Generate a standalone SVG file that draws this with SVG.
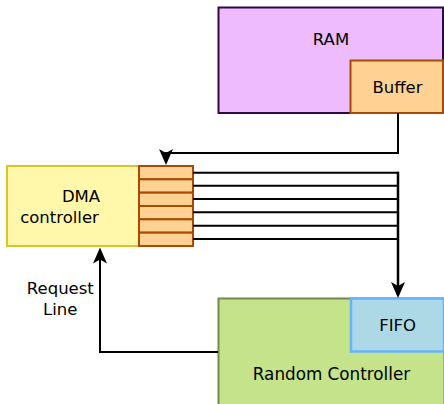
<svg xmlns="http://www.w3.org/2000/svg" width="444" height="404" viewBox="0 0 444 404">
<style>
text{font-family:"DejaVu Sans","Liberation Sans",sans-serif;font-size:16.5px;fill:#000;text-anchor:middle}
.ln{fill:none;stroke:#000;stroke-width:2}
</style>
<defs>
<marker id="arr" viewBox="0 0 16 14" refX="13" refY="7" markerWidth="16" markerHeight="14" markerUnits="userSpaceOnUse" orient="auto">
<path d="M0,0 L16,7 L0,14 L4,7 Z" fill="#000"/>
</marker>
</defs>
<g id="ram">
<rect x="218.5" y="7.5" width="224.5" height="105.5" fill="#eebbff" stroke="#2e0a44" stroke-width="2"/>
<text x="331" y="44.5">RAM</text>
</g>
<g id="buffer">
<rect x="350.5" y="60.5" width="92.5" height="52.5" fill="#ffd192" stroke="#a64b00" stroke-width="2"/>
<text x="397.5" y="93">Buffer</text>
</g>
<g id="random-controller">
<rect x="218.5" y="298.5" width="226" height="110" fill="#c5e38b" stroke="#6f8b50" stroke-width="2"/>
<text x="331.5" y="379.5" style="font-size:16.8px">Random Controller</text>
</g>
<g id="fifo">
<rect x="351" y="298.5" width="93" height="53" fill="#add8e6" stroke="#66b2ff" stroke-width="2.5"/>
<text x="397.7" y="331">FIFO</text>
</g>
<g id="dma-controller">
<rect x="7" y="166" width="132" height="80" fill="#fff7aa" stroke="#d7c530" stroke-width="2"/>
<text x="81" y="201.7">DMA</text>
<text x="59.5" y="222.5">controller</text>
</g>
<g id="dma-register" fill="#ffd192" stroke="#a64b00" stroke-width="2">
<rect x="139" y="166" width="54" height="13.33"/>
<rect x="139" y="179.33" width="54" height="13.33"/>
<rect x="139" y="192.67" width="54" height="13.33"/>
<rect x="139" y="206" width="54" height="13.33"/>
<rect x="139" y="219.33" width="54" height="13.33"/>
<rect x="139" y="232.67" width="54" height="13.33"/>
</g>
<g id="request-line-label">
<text x="60.3" y="294">Request</text>
<text x="60.3" y="315">Line</text>
</g>
<g id="connectors">
<path class="ln" d="M398,113 V153 H166 V162" marker-end="url(#arr)"/>
<path class="ln" d="M218,352 H100 V250.5" marker-end="url(#arr)"/>
<path class="ln" d="M193,172.7 H398"/>
<path class="ln" d="M193,185.7 H398"/>
<path class="ln" d="M193,199 H398"/>
<path class="ln" d="M193,212.3 H398"/>
<path class="ln" d="M193,225.7 H398"/>
<path class="ln" d="M193,239 H398"/>
<path class="ln" d="M398,171.7 V295" style="stroke-width:2.5" marker-end="url(#arr)"/>
</g>
</svg>
